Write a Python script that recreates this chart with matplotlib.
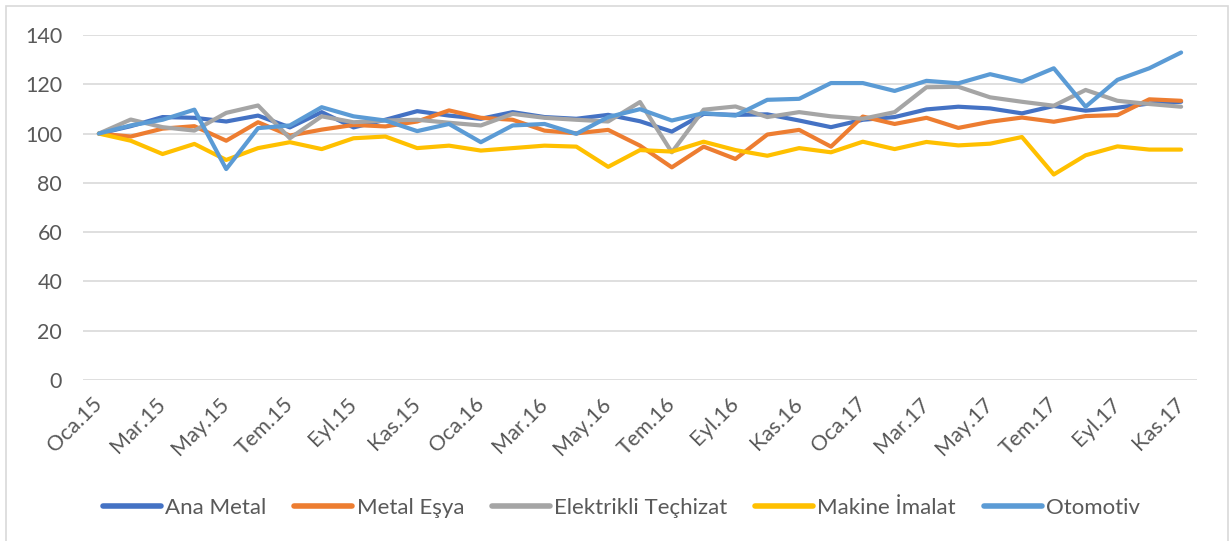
import numpy as np
import matplotlib
matplotlib.use('Agg')
import matplotlib.pyplot as plt
from matplotlib.patches import Rectangle

# monthly categories Oca.15 .. Kas.17
months = ["Oca", "Şub", "Mar", "Nis", "May", "Haz", "Tem", "Ağu", "Eyl", "Eki", "Kas", "Ara"]
categories = []
for yy in ["15", "16", "17"]:
    for m in months:
        categories.append(m + "." + yy)
categories = categories[:35]

ana_metal = [100, 103, 106.7, 106.4, 104.9, 107.3, 102.5, 108.7, 102.5,
             105.6, 109.1, 107.3, 106.0, 108.7, 106.7, 106.0, 107.6, 105.0,
             100.8, 108.0, 107.6, 107.8, 105.3, 102.6, 105.6, 106.7, 109.8,
             110.9, 110.2, 108.2, 111.2, 109.3, 110.5, 112.2, 112.9]
metal_esya = [100, 98.8, 102.0, 103.0, 97.1, 104.6, 99.2, 101.6, 103.5,
              102.9, 104.9, 109.4, 106.4, 105.6, 101.2, 100.1, 101.5, 95.1,
              86.3, 94.7, 89.7, 99.6, 101.5, 94.7, 106.9, 103.9, 106.4,
              102.3, 104.8, 106.5, 104.8, 107.1, 107.5, 113.9, 113.3]
elektrikli = [100, 105.7, 102.6, 101.2, 108.4, 111.4, 98.1, 107.0, 104.6,
              105.3, 105.6, 104.4, 103.3, 108.0, 106.4, 105.6, 104.9, 112.8,
              92.4, 109.7, 111.0, 106.7, 108.7, 107.0, 106.0, 108.7, 118.8,
              119.0, 114.7, 112.9, 111.3, 117.7, 113.3, 112.0, 110.9]
makine = [100, 97.1, 91.7, 95.8, 89.3, 94.1, 96.5, 93.7, 98.1,
          98.8, 94.1, 95.1, 93.1, 94.1, 95.1, 94.7, 86.5, 93.3,
          92.7, 96.7, 93.3, 91.0, 94.1, 92.4, 96.7, 93.7, 96.6,
          95.2, 95.9, 98.6, 83.4, 91.2, 94.8, 93.5, 93.5]
otomotiv = [100, 103.3, 105.6, 109.7, 85.6, 102.2, 103.3, 110.7, 107.0,
            105.3, 101.0, 103.9, 96.5, 103.3, 103.9, 99.9, 106.7, 109.9,
            105.3, 108.3, 107.3, 113.7, 114.1, 120.5, 120.5, 117.3, 121.4,
            120.4, 124.1, 121.1, 126.5, 110.9, 121.8, 126.5, 132.9]

series = [("Ana Metal", ana_metal, "#4472C4"),
          ("Metal Eşya", metal_esya, "#ED7D31"),
          ("Elektrikli Teçhizat", elektrikli, "#A5A5A5"),
          ("Makine İmalat", makine, "#FFC000"),
          ("Otomotiv", otomotiv, "#5B9BD5")]

plt.rcParams['font.family'] = ['Lato', 'DejaVu Sans']
txt_color = "#595959"

fig = plt.figure(figsize=(12.31, 5.41), dpi=100)
ax = fig.add_axes([0.0674, 0.2976, 0.905, 0.6377])

# chart border
fig.patches.append(Rectangle((6 / 1231, -0.01), 1222 / 1231, 1 - 6 / 541 + 0.01,
                             transform=fig.transFigure, fill=False,
                             edgecolor="#D9D9D9", linewidth=1.2))

x = np.arange(len(categories))
for name, vals, col in series:
    ax.plot(x, vals, color=col, linewidth=3.0, label=name,
            solid_joinstyle='round', solid_capstyle='round')

ax.set_xlim(-0.5, len(categories) - 0.5)
ax.set_ylim(0, 140)
ax.set_yticks(range(0, 141, 20))
ax.grid(axis='y', color="#D9D9D9", linewidth=1.2)
ax.set_axisbelow(True)
for s in ax.spines.values():
    s.set_visible(False)
ax.tick_params(axis='both', length=0, colors=txt_color, labelsize=15.5)
ax.tick_params(axis='y', pad=15)

ax.set_xticks(x[::2])
ax.set_xticklabels(categories[::2], rotation=45, ha='right',
                   rotation_mode='anchor', va='center')
ax.tick_params(axis='x', pad=15)

leg = fig.legend(loc='center', bbox_to_anchor=(0.505, 0.061), ncol=5,
                 frameon=False, fontsize=16, handlelength=2.6,
                 handletextpad=0.2, columnspacing=1.25)
for t in leg.get_texts():
    t.set_color(txt_color)
for h in leg.get_lines():
    h.set_linewidth(4)
    h.set_solid_capstyle('round')

plt.savefig('out.png', dpi=100)
